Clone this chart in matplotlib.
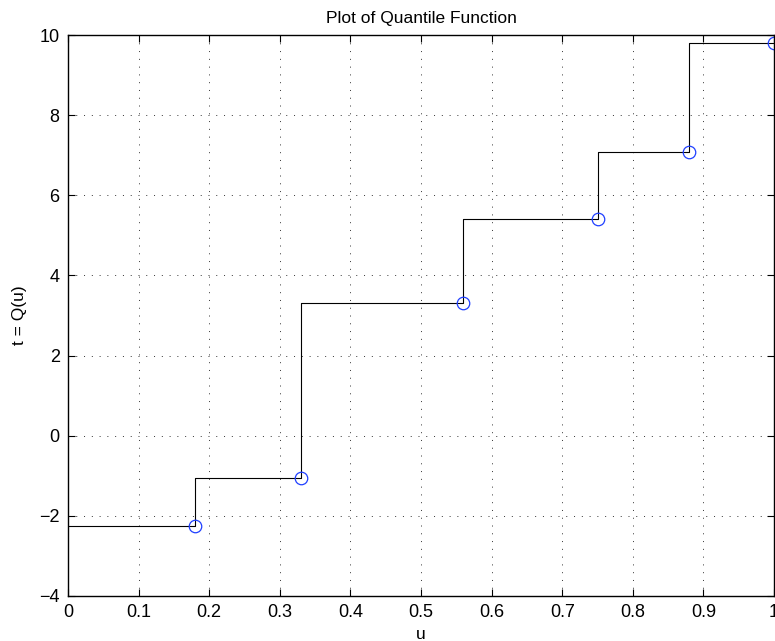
import matplotlib
matplotlib.use('Agg')
import matplotlib.pyplot as plt
import numpy as np

#%% data
u = [0.18, 0.33, 0.56, 0.75, 0.88, 1.0]
t = [-2.25, -1.05, 3.3, 5.4, 7.07, 9.8]

plt.rcParams['font.family'] = ['Liberation Sans', 'DejaVu Sans']

fig = plt.figure(figsize=(7.75, 6.41), dpi=100)
ax = fig.add_axes([68/775, 45/641, 706/775, 561/641])

# step line: value t[i] holds on (u[i-1], u[i]]
xs = [0] + u
ys = [t[0]] + t
ax.step(xs, ys, where='pre', color='black', lw=0.8)
ax.plot(u, t, 'o', mfc='none', mec='#1f3fff', ms=9, mew=0.9, clip_on=False)

ax.set_xlim(0, 1)
ax.set_ylim(-4, 10)
ax.set_xticks(np.arange(0, 1.01, 0.1))
ax.set_xticklabels(['0', '0.1', '0.2', '0.3', '0.4', '0.5', '0.6', '0.7', '0.8', '0.9', '1'])
ax.set_yticks(range(-4, 11, 2))

ax.grid(True, color='#333333', linestyle=(0, (1, 7)), lw=0.7)
ax.tick_params(direction='in', top=True, right=True, labelsize=13, length=5, width=0.8, pad=6)
for s in ax.spines.values():
    s.set_linewidth(1.0)

ax.set_title('Plot of Quantile Function', fontsize=12.5, pad=9)
ax.set_xlabel('u', fontsize=12.5, labelpad=4)
ax.set_ylabel('t = Q(u)', fontsize=12.5, labelpad=9)

fig.savefig('out.png', dpi=100)
